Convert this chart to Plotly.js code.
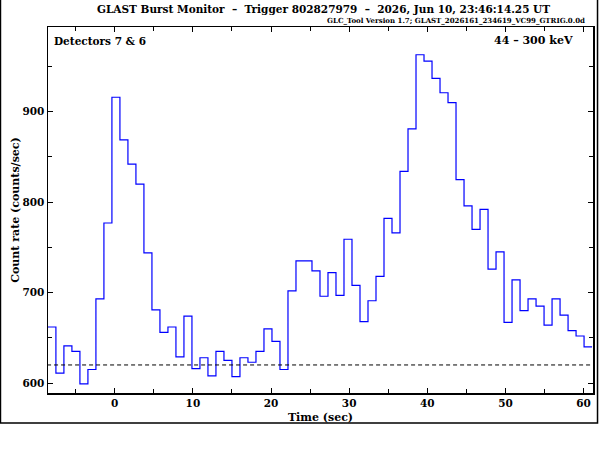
<!DOCTYPE html>
<html>
<head>
<meta charset="utf-8">
<script src="https://cdn.plot.ly/plotly-3.0.1.min.js"></script>
<style>
  html, body { margin: 0; padding: 0; background: #fff; }
  #chart { width: 600px; height: 450px; }
</style>
</head>
<body>
<div id="chart"></div>
<script>
// bin edges (sec since trigger), 1.024 s bins
const binEdges = [
  -8.552, -7.528, -6.504, -5.48, -4.456, -3.432, -2.408, -1.384, -0.36, 0.664,
  1.688, 2.712, 3.736, 4.76, 5.784, 6.808, 7.832, 8.856, 9.88, 10.904,
  11.928, 12.952, 13.976, 15.0, 16.024, 17.048, 18.072, 19.096, 20.12, 21.144,
  22.168, 23.192, 24.216, 25.24, 26.264, 27.288, 28.312, 29.336, 30.36, 31.384,
  32.408, 33.432, 34.456, 35.48, 36.504, 37.528, 38.552, 39.576, 40.6, 41.624,
  42.648, 43.672, 44.696, 45.72, 46.744, 47.768, 48.792, 49.816, 50.84, 51.864,
  52.888, 53.912, 54.936, 55.96, 56.984, 58.008, 59.032, 60.056, 61.08
];

// count rate per bin (counts/sec)
const rates = [
  662, 611, 641, 635, 599, 615, 693, 777, 916, 869,
  842, 820, 744, 681, 656, 662, 629, 674, 616, 628,
  608, 635, 625, 607, 628, 623, 635, 660, 646, 615,
  702, 735, 735, 724, 696, 722, 697, 759, 708, 668,
  691, 718, 782, 766, 834, 881, 963, 956, 937, 921,
  910, 825, 796, 770, 792, 726, 745, 667, 714, 680,
  693, 685, 664, 693, 675, 658, 652, 640
];

const background = 620;

const sp = '\u00a0\u00a0';
const titleText = 'GLAST Burst Monitor' + sp + '\u2013' + sp + 'Trigger 802827979' + sp + '\u2013' + sp + '2026, Jun 10, 23:46:14.25 UT';
const toolText = 'GLC_Tool Version 1.7; GLAST_2026161_234619_VC99_GTRIG.0.0d';
const detText = 'Detectors 7 & 6';
const energyText = '44 \u2013 300 keV';

const serif = 'DejaVu Serif, Liberation Serif, serif';

const lightcurve = {
  x: binEdges,
  y: rates.concat([rates[rates.length - 1]]),
  type: 'scatter',
  mode: 'lines',
  line: {shape: 'hv', color: '#0000ff', width: 1.2},
  hoverinfo: 'skip'
};

const bkg = {
  x: [binEdges[0] - 1, binEdges[binEdges.length - 1] + 1],
  y: [background, background],
  type: 'scatter',
  mode: 'lines',
  line: {color: '#000', width: 1, dash: '4px,3px'},
  hoverinfo: 'skip'
};

const axisCommon = {
  showgrid: false,
  zeroline: false,
  showline: true,
  linecolor: '#000',
  linewidth: 1.5,
  mirror: 'allticks',
  ticks: 'inside',
  ticklen: 5,
  tickwidth: 1,
  tickcolor: '#000',
  tickfont: {family: serif, size: 10.5, color: '#000', weight: 'bold'}
};

const layout = {
  width: 600,
  height: 450,
  margin: {l: 48, r: 7, t: 27, b: 57},
  paper_bgcolor: '#fff',
  plot_bgcolor: '#fff',
  showlegend: false,
  xaxis: Object.assign({}, axisCommon, {
    range: [-8.54, 61.2],
    tick0: 0,
    dtick: 10,
    minor: {dtick: 5, ticks: 'inside', ticklen: 4, tickcolor: '#000'},
    title: {text: 'Time (sec)', font: {family: serif, size: 11, color: '#000', weight: 'bold'}, standoff: 5}
  }),
  yaxis: Object.assign({}, axisCommon, {
    range: [589, 993.7],
    tick0: 0,
    dtick: 100,
    minor: {dtick: 50, ticks: 'inside', ticklen: 4, tickcolor: '#000'},
    title: {text: 'Count rate (counts/sec)', font: {family: serif, size: 11, color: '#000', weight: 'bold'}, standoff: 0}
  }),
  annotations: [
    {text: titleText, xref: 'paper', yref: 'paper', x: 0.5046, y: 1.049,
     xanchor: 'center', yanchor: 'middle', showarrow: false,
     font: {family: serif, size: 10.5, color: '#000', weight: 'bold'}},
    {text: toolText, xref: 'paper', yref: 'paper', x: 0.989, y: 1.0164,
     xanchor: 'right', yanchor: 'middle', showarrow: false,
     font: {family: serif, size: 7, color: '#000', weight: 'bold'}},
    {text: detText, xref: 'paper', yref: 'paper', x: 0.0073, y: 0.962,
     xanchor: 'left', yanchor: 'middle', showarrow: false,
     font: {family: serif, size: 10.5, color: '#000', weight: 'bold'}},
    {text: energyText, xref: 'paper', yref: 'paper', x: 0.967, y: 0.962,
     xanchor: 'right', yanchor: 'middle', showarrow: false,
     font: {family: serif, size: 11, color: '#000', weight: 'bold'}}
  ],
  shapes: [
    {type: 'rect', xref: 'paper', yref: 'paper',
     x0: -0.0872, x1: 1.0083, y0: -0.082, y1: 1.0792,
     line: {color: '#000', width: 1.5}}
  ]
};

Plotly.newPlot('chart', [lightcurve, bkg], layout, {staticPlot: true});
</script>
</body>
</html>
